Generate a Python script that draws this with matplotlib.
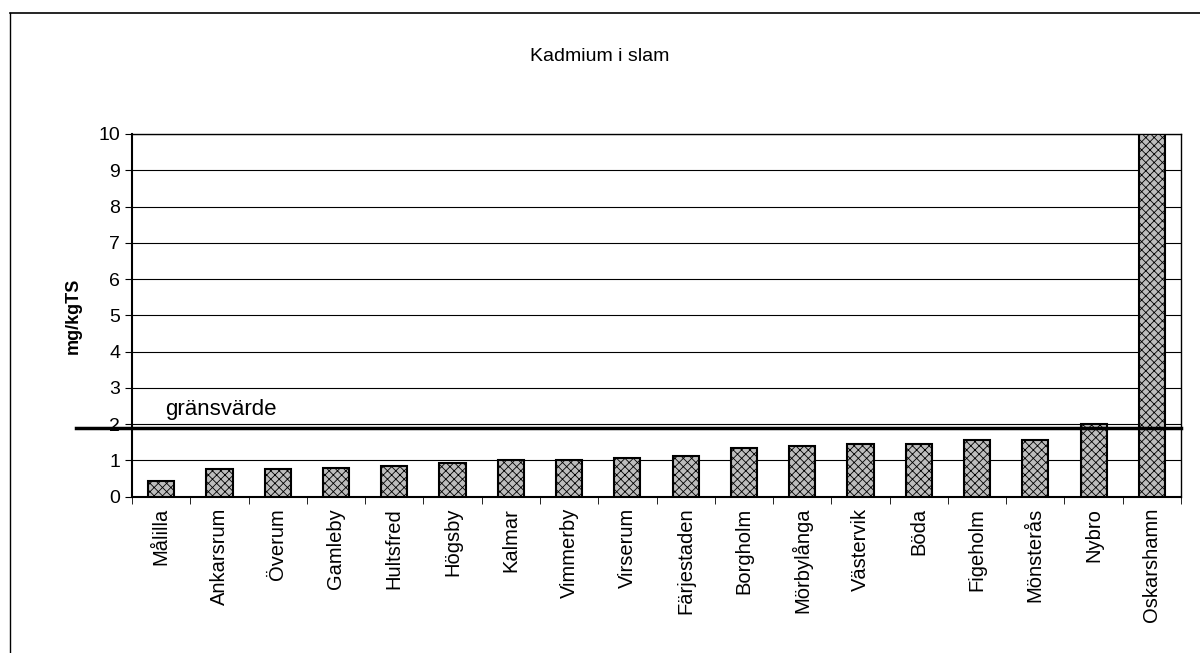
import matplotlib.pyplot as plt
from matplotlib.lines import Line2D
import numpy as np

plt.rcParams['font.family'] = ['Liberation Sans', 'DejaVu Sans']
plt.rcParams['hatch.color'] = '#555555'
plt.rcParams['hatch.linewidth'] = 0.6

orter = ['Målilla', 'Ankarsrum', 'Överum', 'Gamleby', 'Hultsfred', 'Högsby',
         'Kalmar', 'Vimmerby', 'Virserum', 'Färjestaden', 'Borgholm',
         'Mörbylånga', 'Västervik', 'Böda', 'Figeholm', 'Mönsterås', 'Nybro',
         'Oskarshamn']
kadmium = [0.43, 0.77, 0.76, 0.80, 0.85, 0.92, 1.0, 1.0, 1.08, 1.13, 1.34,
           1.41, 1.45, 1.45, 1.55, 1.55, 2.0, 10.0]
gransvarde = 1.9

fig = plt.figure(figsize=(12, 6.53), dpi=100)
ax = fig.add_axes([0.11, 0.2394, 0.8742, 0.5554])

x = np.arange(len(orter))
ax.bar(x, kadmium, width=0.45, facecolor='#bdbdbd', edgecolor='black',
       linewidth=1.5, hatch='xxxx', zorder=3)

ax.set_xlim(-0.5, len(orter) - 0.5)
ax.set_ylim(0, 10)
ax.set_yticks(range(0, 11))
ax.yaxis.grid(True, color='black', linewidth=0.8)
ax.set_axisbelow(True)

ax.set_xticks(x)
ax.set_xticklabels(orter, rotation=90, fontsize=14.5)
ax.set_xticks(np.arange(-0.5, len(orter)), minor=True)
ax.tick_params(axis='x', which='major', length=0, pad=8)
ax.tick_params(axis='x', which='minor', length=5, direction='out')
ax.tick_params(axis='y', length=5, labelsize=14)

for s in ax.spines.values():
    s.set_linewidth(1.0)
ax.spines['left'].set_linewidth(1.5)
ax.spines['bottom'].set_linewidth(1.5)

ax.set_ylabel('mg/kgTS', fontsize=13, fontweight='bold', labelpad=12)

# gränsvärde line extending left past the axis
ax.axhline(gransvarde, xmin=-0.053, xmax=1, color='black', linewidth=2.5,
           clip_on=False, zorder=4)
ax.text(0.07, 2.25, 'gränsvärde', fontsize=16, ha='left', va='baseline')

fig.text(0.5, 0.913, 'Kadmium i slam', ha='center', va='center', fontsize=14)

# outer frame (top and left)
fig.add_artist(Line2D([10 / 1200, 1.0], [1 - 13 / 653, 1 - 13 / 653],
                      color='black', linewidth=1.2))
fig.add_artist(Line2D([10 / 1200, 10 / 1200], [1 - 13 / 653, 0.0],
                      color='black', linewidth=1.0))

fig.savefig('out.png', dpi=100)
